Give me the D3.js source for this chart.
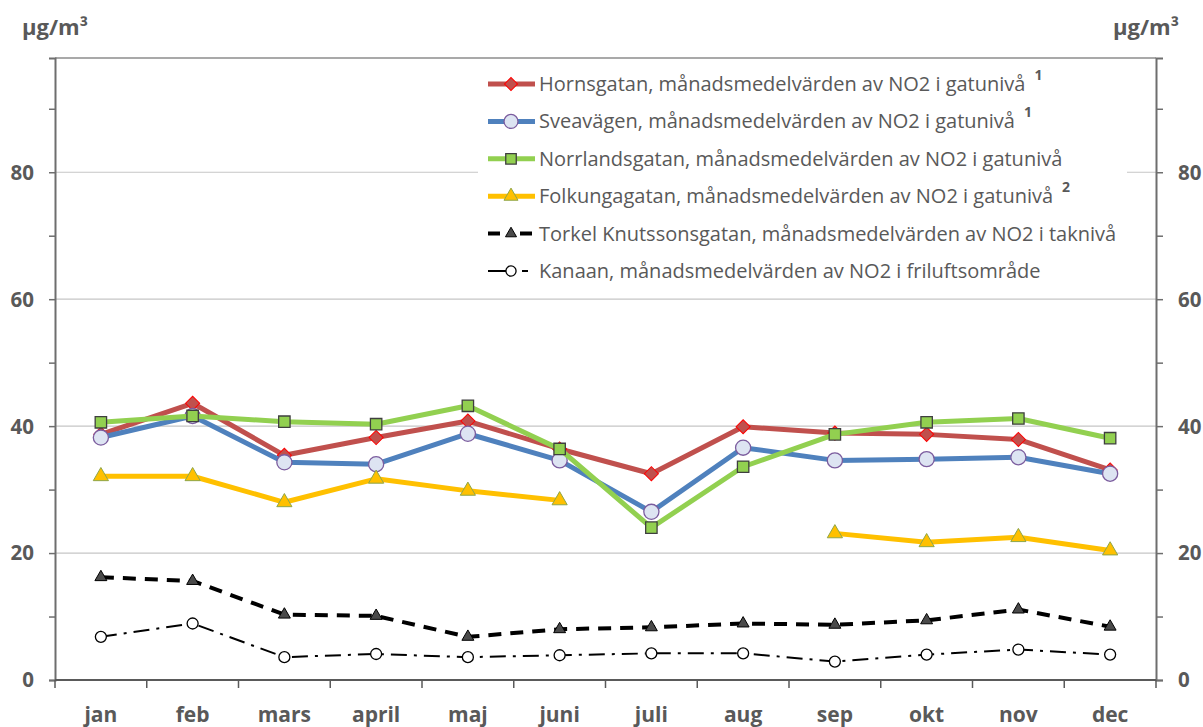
<!DOCTYPE html>
<html>
<head>
<meta charset="utf-8">
<script src="https://cdn.jsdelivr.net/npm/d3@7"></script>
<style>
  body { margin: 0; background: #fff; }
  text { font-family: "Open Sans", Lato, sans-serif; fill: #595959; }
</style>
</head>
<body>
<script>
// months on the x axis
var months = ["jan", "feb", "mars", "april", "maj", "juni", "juli", "aug", "sep", "okt", "nov", "dec"];

// monthly mean NO2, µg/m3
var hornsgatan     = [38.7, 43.6, 35.4, 38.2, 40.8, 36.4, 32.5, 39.9, 38.9, 38.7, 37.9, 33.1];
var sveavagen      = [38.2, 41.6, 34.3, 34.0, 38.8, 34.6, 26.5, 36.6, 34.6, 34.8, 35.1, 32.5];
var norrlandsgatan = [40.6, 41.6, 40.7, 40.3, 43.2, 36.4, 24.0, 33.6, 38.7, 40.6, 41.2, 38.1];
var folkungagatan  = [32.1, 32.1, 28.0, 31.7, 29.8, 28.3, null, null, 23.1, 21.7, 22.5, 20.4];
var torkel         = [16.2, 15.6, 10.3, 10.1, 6.8, 8.0, 8.3, 8.9, 8.7, 9.4, 11.1, 8.4];
var kanaan         = [6.8, 8.9, 3.6, 4.1, 3.6, 3.9, 4.2, 4.2, 2.9, 4.0, 4.8, 4.0];

var yTicks = [0, 20, 40, 60, 80];
var yMinor = [10, 30, 50, 70, 90];

var seriesNames = [
  "Hornsgatan, månadsmedelvärden av NO2 i gatunivå",
  "Sveavägen, månadsmedelvärden av NO2 i gatunivå",
  "Norrlandsgatan, månadsmedelvärden av NO2 i gatunivå",
  "Folkungagatan, månadsmedelvärden av NO2 i gatunivå",
  "Torkel Knutssonsgatan, månadsmedelvärden av NO2 i taknivå",
  "Kanaan, månadsmedelvärden av NO2 i friluftsområde"
];
var footnotes = ["1", "1", "", "2", "", ""];

var w = 1203, h = 727;
var pL = 55, pR = 1156, pT = 58, pB = 680;

var svg = d3.select("body").append("svg")
  .attr("width", w)
  .attr("height", h);

var x = d3.scaleBand().domain(months).range([pL, pR]);
var y = d3.scaleLinear().domain([0, 98]).range([pB, pT]);
function cx(i) { return x(months[i]) + x.bandwidth() / 2; }

//gridlines
svg.append("g").selectAll("line")
  .data(yTicks.slice(1))
  .enter().append("line")
  .attr("x1", pL).attr("x2", pR)
  .attr("y1", function(d) { return y(d); })
  .attr("y2", function(d) { return y(d); })
  .attr("stroke", "#c6c6c6").attr("stroke-width", 1.2);

//top border
svg.append("line")
  .attr("x1", pL).attr("x2", pR).attr("y1", pT).attr("y2", pT)
  .attr("stroke", "#8c8c8c").attr("stroke-width", 1.5);

//axes
var axisColor = "#6e6e6e";
var yLeft = d3.axisLeft(y).tickValues(yTicks.concat(yMinor)).tickSize(6).tickFormat("");
var yRight = d3.axisRight(y).tickValues(yTicks.concat(yMinor)).tickSize(7).tickFormat("");
var gl = svg.append("g").attr("transform", "translate(" + pL + ",0)").call(yLeft);
var gr = svg.append("g").attr("transform", "translate(" + pR + ",0)").call(yRight);
[gl, gr].forEach(function(g) {
  g.select(".domain").attr("stroke", axisColor).attr("stroke-width", 2);
  g.selectAll(".tick line").attr("stroke", axisColor).attr("stroke-width", 1.5);
});

//y labels
svg.append("g").selectAll("text")
  .data(yTicks).enter().append("text")
  .attr("x", 34).attr("y", function(d) { return y(d); })
  .attr("dy", "0.36em")
  .attr("text-anchor", "end")
  .style("font-size", "20.5px").style("font-weight", "bold")
  .text(function(d) { return d; });
svg.append("g").selectAll("text")
  .data(yTicks).enter().append("text")
  .attr("x", 1178).attr("y", function(d) { return y(d); })
  .attr("dy", "0.36em")
  .style("font-size", "20.5px").style("font-weight", "bold")
  .text(function(d) { return d; });

//units
svg.append("text").attr("x", 22).attr("y", 35)
  .style("font-size", "22px").style("font-weight", "bold").text("µg/m³");
svg.append("text").attr("x", 1113).attr("y", 35)
  .style("font-size", "22px").style("font-weight", "bold").text("µg/m³");

//x axis
var xb = svg.append("g").attr("transform", "translate(0," + pB + ")");
xb.append("line").attr("x1", pL).attr("x2", pR)
  .attr("stroke", "#5a5a5a").attr("stroke-width", 2);
xb.selectAll(".tk")
  .data(months.concat(["end"])).enter().append("line")
  .attr("x1", function(d, i) { return i < 12 ? x(d) : pR; })
  .attr("x2", function(d, i) { return i < 12 ? x(d) : pR; })
  .attr("y1", 0).attr("y2", 8)
  .attr("stroke", "#5a5a5a").attr("stroke-width", 1.5);
xb.selectAll(".lbl")
  .data(months).enter().append("text")
  .attr("x", function(d, i) { return cx(i); })
  .attr("y", 42)
  .attr("text-anchor", "middle")
  .style("font-size", "21px").style("font-weight", "bold")
  .text(function(d) { return d; });

//series styling
var series = [
  { values: hornsgatan, color: "#c0504d", width: 5, dash: null, ldash: null,
    symbol: d3.symbolSquare, size: 100, rotate: 45, fill: "#c0504d", stroke: "#ff0000", sw: 1 },
  { values: sveavagen, color: "#4f81bd", width: 5, dash: null, ldash: null,
    symbol: d3.symbolCircle, size: 180, rotate: 0, fill: "#dde4f2", stroke: "#7b5c9e", sw: 1.3 },
  { values: norrlandsgatan, color: "#92d050", width: 5, dash: null, ldash: null,
    symbol: d3.symbolSquare, size: 130, rotate: 0, fill: "#92d050", stroke: "#3f3f3f", sw: 1.3 },
  { values: folkungagatan, color: "#ffc000", width: 5, dash: null, ldash: null,
    symbol: d3.symbolTriangle, size: 100, rotate: 0, fill: "#ffc000", stroke: "#8ea64a", sw: 1 },
  { values: torkel, color: "#000000", width: 4, dash: "13,9", ldash: "12,20,12",
    symbol: d3.symbolTriangle, size: 62, rotate: 0, fill: "#4a4a4a", stroke: "#000", sw: 1 },
  { values: kanaan, color: "#000000", width: 2, dash: "16,7,3,7", ldash: "18,16,6",
    symbol: d3.symbolCircle, size: 95, rotate: 0, fill: "#ffffff", stroke: "#000", sw: 1.3 }
];

var line = d3.line()
  .defined(function(d) { return d != null; })
  .x(function(d, i) { return cx(i); })
  .y(function(d) { return y(d); });

series.forEach(function(s) {
  var g = svg.append("g");
  g.append("path")
    .attr("d", line(s.values))
    .attr("fill", "none")
    .attr("stroke", s.color)
    .attr("stroke-width", s.width)
    .attr("stroke-dasharray", s.dash)
    .attr("stroke-linejoin", "round");
  g.selectAll("path.m")
    .data(s.values.map(function(v, i) { return { v: v, i: i }; }).filter(function(d) { return d.v != null; }))
    .enter().append("path")
    .attr("class", "m")
    .attr("d", d3.symbol().type(s.symbol).size(s.size))
    .attr("transform", function(d) { return "translate(" + cx(d.i) + "," + y(d.v) + ") rotate(" + s.rotate + ")"; })
    .attr("fill", s.fill)
    .attr("stroke", s.stroke)
    .attr("stroke-width", s.sw);
});

//legend
var lg = svg.append("g");
lg.append("rect").attr("x", 478).attr("y", 60).attr("width", 649).attr("height", 232).attr("fill", "#fff");
series.forEach(function(s, k) {
  var ry = 84 + k * 37.4;
  lg.append("line")
    .attr("x1", 488).attr("x2", 535).attr("y1", ry).attr("y2", ry)
    .attr("stroke", s.color).attr("stroke-width", s.width)
    .attr("stroke-dasharray", s.ldash);
  lg.append("path")
    .attr("d", d3.symbol().type(s.symbol).size(s.size * 0.85))
    .attr("transform", "translate(511," + ry + ") rotate(" + s.rotate + ")")
    .attr("fill", s.fill).attr("stroke", s.stroke).attr("stroke-width", s.sw);
  var t = lg.append("text")
    .attr("x", 539).attr("y", ry).attr("dy", "0.35em")
    .style("font-size", "20px")
    .text(seriesNames[k]);
  if (footnotes[k]) {
    var tw = t.node().getComputedTextLength();
    lg.append("text")
      .attr("x", 539 + tw + 9).attr("y", ry - 4)
      .style("font-size", "14px").style("font-weight", "bold")
      .text(footnotes[k]);
  }
});
</script>
</body>
</html>
